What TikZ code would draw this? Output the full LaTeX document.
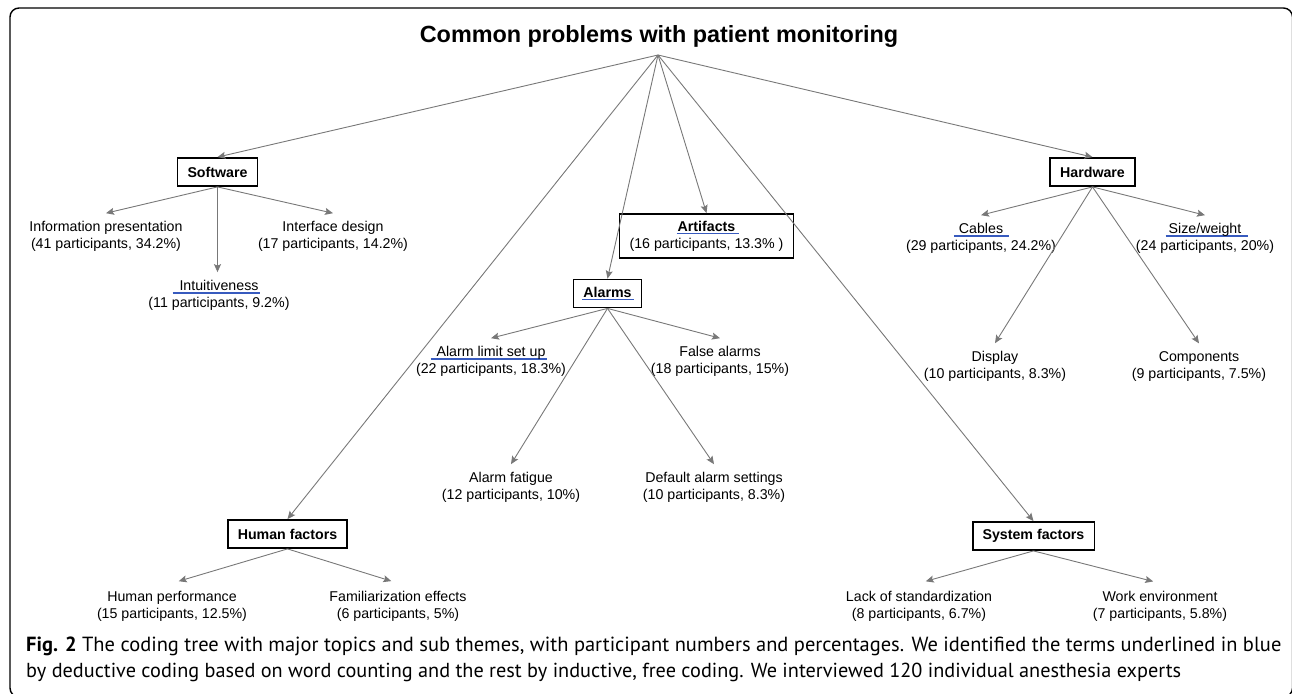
\documentclass[tikz,border=0pt]{standalone}
\usepackage{fontspec}
\setmainfont{Liberation Sans}
\newfontfamily\capfont{PT Sans}
\usepackage{xcolor}
\usepackage{graphicx}
\usepackage{tikz}
\usetikzlibrary{arrows.meta}
\tikzset{>={Stealth[length=8pt,width=7pt,inset=1.5pt]}}

\definecolor{ulblue}{RGB}{55,90,190}
\definecolor{linkgray}{RGB}{120,120,120}

\tikzset{
  topic/.style={draw=black, line width=1.8pt, fill=white, align=center,
    font=\fontsize{14.2}{17}\selectfont\bfseries, inner xsep=10pt, minimum height=28pt},
  theme/.style={align=center, font=\fontsize{14.2}{17}\selectfont, inner xsep=4pt, inner ysep=8pt},
  link/.style={->, draw=linkgray, line width=0.9pt},
}

% blue underline: left overhang, right overhang, text
\newcommand{\bluline}[3]{\setbox0\hbox{#3}\rlap{\kern-#1\color{ulblue}\rule[-3.2pt]{\dimexpr\wd0+#1+#2\relax}{1.6pt}}\box0}

\begin{document}
\begin{tikzpicture}[x=1pt,y=-1pt]
    \useasboundingbox (0,0) rectangle (1292,693);
    \draw[line width=1.4pt, rounded corners=9pt] (10,8) rectangle (1292.5,697);

    \node[font=\fontsize{23.4}{28}\selectfont\bfseries] (title) at (659,37) {Common problems with patient monitoring};
    \coordinate (root) at (658,55);

    % major topics
    \node[topic] (software) at (217.5,172) {Software};
    \node[topic] (hardware) at (1092.5,172) {Hardware};
    \node[topic, minimum height=44pt] (artifacts) at (706.5,236) {\bluline{1pt}{4pt}{Artifacts}\\\mdseries (16 participants, 13.3\% )};
    \node[topic] (alarms) at (607.5,293.5) {\bluline{1pt}{2pt}{Alarms}};
    \node[topic] (human) at (287.5,534) {Human factors};
    \node[topic] (system) at (1033.5,536) {System factors};

    % sub themes
    \node[theme] (info) at (106,236.5) {Information presentation\\(41 participants, 34.2\%)};
    \node[theme] (intuit) at (219,295.5) {\bluline{7pt}{2pt}{Intuitiveness}\\(11 participants, 9.2\%)};
    \node[theme] (iface) at (333,236.5) {Interface design\\(17 participants, 14.2\%)};
    \node[theme] (cables) at (981,238.5) {\bluline{5pt}{6pt}{Cables}\\(29 participants, 24.2\%)};
    \node[theme] (sizew) at (1205,238.5) {\bluline{3pt}{7pt}{Size/weight}\\(24 participants, 20\%)};
    \node[theme] (display) at (995,366.5) {Display\\(10 participants, 8.3\%)};
    \node[theme] (comps) at (1199,366.5) {Components\\(9 participants, 7.5\%)};
    \node[theme] (limit) at (491,361.5) {\bluline{6pt}{2pt}{Alarm limit set up}\\(22 participants, 18.3\%)};
    \node[theme] (falsealarm) at (720,361.5) {False alarms\\(18 participants, 15\%)};
    \node[theme] (fatigue) at (511,487.5) {Alarm fatigue\\(12 participants, 10\%)};
    \node[theme] (default) at (714,487.5) {Default alarm settings\\(10 participants, 8.3\%)};
    \node[theme] (perf) at (172,606.5) {Human performance\\(15 participants, 12.5\%)};
    \node[theme] (famil) at (398,606.5) {Familiarization effects\\(6 participants, 5\%)};
    \node[theme] (lack) at (919,606.5) {Lack of standardization\\(8 participants, 6.7\%)};
    \node[theme] (workenv) at (1160,606.5) {Work environment\\(7 participants, 5.8\%)};

    \draw[link] (root) -- (software.north);
    \draw[link] (root) -- (hardware.north);
    \draw[link] (root) -- (artifacts.north);
    \draw[link] (root) -- (alarms.north);
    \draw[link] (root) -- (human.north);
    \draw[link] (root) -- (system.north);

    \draw[link] (software.south) -- (info.north);
    \draw[link] (software.south) -- (software.south |- intuit.north);
    \draw[link] (software.south) -- (iface.north);
    \draw[link] (hardware.south) -- (cables.north);
    \draw[link] (hardware.south) -- (sizew.north);
    \draw[link] (hardware.south) -- (display.north);
    \draw[link] (hardware.south) -- (comps.north);
    \draw[link] (alarms.south) -- (limit.north);
    \draw[link] (alarms.south) -- (falsealarm.north);
    \draw[link] (alarms.south) -- (fatigue.north);
    \draw[link] (alarms.south) -- (default.north);
    \draw[link, shorten >=7pt] (human.south) -- (perf.north);
    \draw[link, shorten >=7pt] (human.south) -- (famil.north);
    \draw[link, shorten >=7pt] (system.south) -- (lack.north);
    \draw[link, shorten >=7pt] (system.south) -- (workenv.north);

    % caption
    \node[anchor=base west, inner sep=0, font=\capfont] (cap1) at (26,651) {\resizebox{1255pt}{!}{\textbf{Fig. 2} The coding tree with major topics and sub themes, with participant numbers and percentages. We identified the terms underlined in blue}};
    \node[anchor=base west, inner sep=0, font=\capfont] (cap2) at (26,677) {\resizebox{1155pt}{!}{by deductive coding based on word counting and the rest by inductive, free coding. We interviewed 120 individual anesthesia experts}};
\end{tikzpicture}
\end{document}
